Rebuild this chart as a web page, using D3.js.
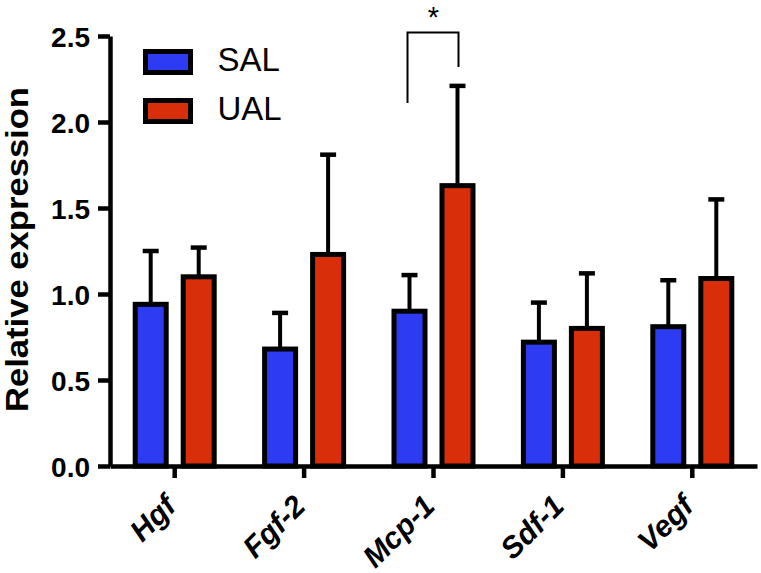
<!DOCTYPE html>
<html>
<head>
<meta charset="utf-8">
<script src="https://cdn.jsdelivr.net/npm/d3@7"></script>
<style>
  html, body { margin: 0; padding: 0; background: #fff; }
  svg { display: block; }
  text { font-family: "Liberation Sans", Arial, Helvetica, sans-serif; }
</style>
</head>
<body>
<svg id="chart" width="761" height="573"></svg>
<script>
// ---- data ----
const categories = ["Hgf", "Fgf-2", "Mcp-1", "Sdf-1", "Vegf"];
const seriesNames = ["SAL", "UAL"];
const salMean = [0.94, 0.68, 0.90, 0.72, 0.81];
const salErr  = [0.31, 0.21, 0.21, 0.23, 0.27];
const ualMean = [1.10, 1.23, 1.63, 0.80, 1.09];
const ualErr  = [0.17, 0.58, 0.58, 0.32, 0.46];
const yTicks = [0.0, 0.5, 1.0, 1.5, 2.0, 2.5];
const yTitle = "Relative expression";
const sigCategory = "Mcp-1";
const sigLabel = "*";
const sigLevels = [2.11, 2.52, 2.32]; // left foot, top, right foot

const colors = { SAL: "#2d3cf3", UAL: "#d92e0a" };

const svg = d3.select("#chart");

const x0 = d3.scaleBand().domain(categories).range([110, 757]);
const bw = x0.bandwidth();
const x1 = d3.scaleBand().domain(seriesNames).range([bw / 2 - 48, bw / 2 + 48]);
const y = d3.scaleLinear().domain([0, 2.5]).range([466, 36]);

const rows = categories.map((c, i) => ({
  cat: c,
  vals: [
    { s: "SAL", m: salMean[i], e: salErr[i] },
    { s: "UAL", m: ualMean[i], e: ualErr[i] }
  ]
}));

const barW = 31;

// bars + error bars
const gCat = svg.append("g").selectAll("g").data(rows).join("g")
  .attr("transform", d => `translate(${x0(d.cat)},0)`);

const gBar = gCat.selectAll("g").data(d => d.vals).join("g");

gBar.append("line")
  .attr("x1", d => x1(d.s) + x1.bandwidth() / 2)
  .attr("x2", d => x1(d.s) + x1.bandwidth() / 2)
  .attr("y1", d => y(d.m))
  .attr("y2", d => y(d.m + d.e))
  .attr("stroke", "#000").attr("stroke-width", 4);

gBar.append("line")
  .attr("x1", d => x1(d.s) + x1.bandwidth() / 2 - 8)
  .attr("x2", d => x1(d.s) + x1.bandwidth() / 2 + 8)
  .attr("y1", d => y(d.m + d.e))
  .attr("y2", d => y(d.m + d.e))
  .attr("stroke", "#000").attr("stroke-width", 4.5);

gBar.append("rect")
  .attr("x", d => x1(d.s) + (x1.bandwidth() - barW) / 2)
  .attr("width", barW)
  .attr("y", d => y(d.m))
  .attr("height", d => y(0) - y(d.m))
  .attr("fill", d => colors[d.s])
  .attr("stroke", "#000")
  .attr("stroke-width", 5);

// y axis
const yAxis = svg.append("g")
  .attr("transform", "translate(110,0)")
  .call(d3.axisLeft(y).tickValues(yTicks).tickFormat(d3.format(".1f"))
    .tickSize(12).tickSizeOuter(0).tickPadding(8));
yAxis.select(".domain").attr("stroke", "#000").attr("stroke-width", 4.5);
yAxis.selectAll(".tick line").attr("stroke", "#000").attr("stroke-width", 4.5);
yAxis.selectAll(".tick text")
  .attr("font-family", "Liberation Sans, Arial, sans-serif")
  .attr("font-size", 28).attr("font-weight", "bold").attr("fill", "#000")
  .attr("dy", "0.36em");

// x axis
const xAxis = svg.append("g")
  .attr("transform", `translate(0,${y(0)})`)
  .call(d3.axisBottom(x0).tickSize(12).tickSizeOuter(0).tickFormat(""));
xAxis.select(".domain").attr("stroke", "#000").attr("stroke-width", 4.5);
xAxis.selectAll(".tick line").attr("stroke", "#000").attr("stroke-width", 4.5);

// rotated category labels
svg.append("g").selectAll("text").data(categories).join("text")
  .attr("transform", d => `translate(${x0(d) + bw / 2 + 3},${y(0) + 42}) rotate(-45)`)
  .attr("text-anchor", "end")
  .attr("font-size", 30)
  .attr("font-weight", "bold")
  .attr("font-style", "italic")
  .attr("fill", "#000")
  .text(d => d);

// y title
svg.append("text")
  .attr("transform", `translate(28,${(87 + 412) / 2}) rotate(-90)`)
  .attr("text-anchor", "middle")
  .attr("font-size", 32)
  .attr("font-weight", "bold")
  .attr("textLength", 325)
  .attr("lengthAdjust", "spacingAndGlyphs")
  .attr("fill", "#000")
  .text(yTitle);

// legend
const leg = svg.append("g").selectAll("g").data(seriesNames).join("g")
  .attr("transform", (d, i) => `translate(145.5,${51.5 + i * 49})`);
leg.append("rect")
  .attr("width", 45).attr("height", 21)
  .attr("fill", d => colors[d]).attr("stroke", "#000").attr("stroke-width", 5);
leg.append("text")
  .attr("x", 72).attr("y", 19)
  .attr("font-size", 33)
  .attr("fill", "#000")
  .text(d => d);

// significance bracket
const cx = s => x0(sigCategory) + x1(s) + x1.bandwidth() / 2;
const bracket = d3.path();
bracket.moveTo(cx("SAL") - 2, y(sigLevels[0]));
bracket.lineTo(cx("SAL") - 2, y(sigLevels[1]));
bracket.lineTo(cx("UAL") + 1, y(sigLevels[1]));
bracket.lineTo(cx("UAL") + 1, y(sigLevels[2]));
svg.append("path").attr("d", bracket.toString())
  .attr("fill", "none").attr("stroke", "#000").attr("stroke-width", 2);
svg.append("text")
  .attr("x", (cx("SAL") + cx("UAL")) / 2)
  .attr("y", 27)
  .attr("text-anchor", "middle")
  .attr("font-size", 29)
  .attr("fill", "#000")
  .text(sigLabel);
</script>
</body>
</html>
